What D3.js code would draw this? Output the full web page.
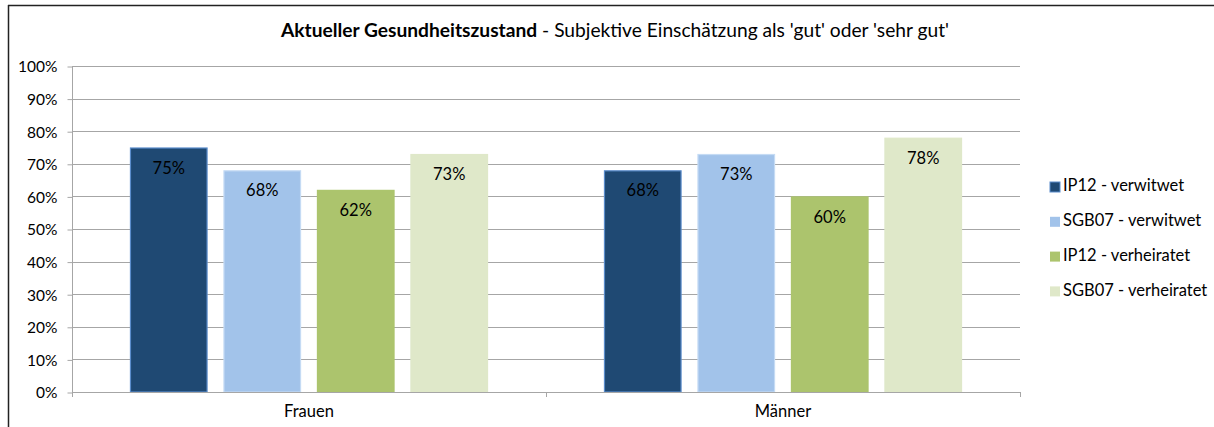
<!DOCTYPE html>
<html><head><meta charset="utf-8">
<script src="https://cdn.jsdelivr.net/npm/d3@7"></script>
<style>
body{margin:0;background:#fff;}
svg{display:block;font-family:Lato,"Open Sans",sans-serif;}
</style></head>
<body><svg id="c" width="1214" height="427"></svg>
<script>
const categories = ["Frauen", "Männer"];
const seriesNames = ["IP12 - verwitwet", "SGB07 - verwitwet", "IP12 - verheiratet", "SGB07 - verheiratet"];
const ip12Verwitwet = [0.75, 0.68];
const sgb07Verwitwet = [0.68, 0.73];
const ip12Verheiratet = [0.62, 0.60];
const sgb07Verheiratet = [0.73, 0.78];
const yTicks = [0, 0.1, 0.2, 0.3, 0.4, 0.5, 0.6, 0.7, 0.8, 0.9, 1.0];

const seriesValues = [ip12Verwitwet, sgb07Verwitwet, ip12Verheiratet, sgb07Verheiratet];
const fills = ["#1f4973", "#a2c3ea", "#acc46d", "#dfe8c9"];
const strokes = ["#5a8ccb", "#c5dbf4", "#acc46d", "#dfe8c9"];
const FONT = "Lato,'Open Sans',sans-serif";
const FS = 16.5;

const svg = d3.select("#c");
// outer frame
svg.append("line").attr("x1", 8).attr("x2", 1214).attr("y1", 5.5).attr("y2", 5.5).attr("stroke", "#222").attr("stroke-width", 1.5);
svg.append("line").attr("x1", 8.5).attr("x2", 8.5).attr("y1", 5).attr("y2", 427).attr("stroke", "#222").attr("stroke-width", 1.5);

const L = 72, R = 1020, T = 66, B = 392;
const y = d3.scaleLinear().domain([0, 1]).range([B, T]);
const x0 = d3.scaleBand().domain(categories).range([L, R]);
const x1 = d3.scaleBand().domain(d3.range(seriesNames.length)).range([0, x0.bandwidth()]).paddingInner(0.17).paddingOuter(0.62);

// gridlines
svg.append("g").selectAll("line").data(yTicks.slice(1)).join("line")
  .attr("x1", L).attr("x2", R).attr("y1", d => Math.round(y(d)) + 0.5).attr("y2", d => Math.round(y(d)) + 0.5)
  .attr("stroke", "#a6a6a6").attr("stroke-width", 1);

// y axis
const yAxis = d3.axisLeft(y).tickValues(yTicks).tickFormat(d3.format(".0%")).tickSize(5).tickPadding(10);
const gy = svg.append("g").attr("transform", `translate(${L + 0.5},0.5)`).call(yAxis);
gy.select(".domain").attr("stroke", "#a6a6a6").attr("d", `M0,${T}V${B}`);
gy.selectAll(".tick line").attr("stroke", "#a6a6a6");
gy.selectAll("text").attr("font-size", 15.5).attr("fill", "#000").attr("dy", "0.35em").attr("font-family", FONT);

// bars
const groups = svg.append("g").selectAll("g").data(categories).join("g")
  .attr("transform", d => `translate(${x0(d)},0)`);
groups.each(function(cat, ci) {
  const g = d3.select(this);
  seriesValues.forEach((vals, si) => {
    const v = vals[ci];
    g.append("rect")
      .attr("x", x1(si) + 0.5).attr("y", y(v) + 0.5)
      .attr("width", x1.bandwidth() - 1).attr("height", B - y(v) - 0.5)
      .attr("fill", fills[si]).attr("stroke", strokes[si]).attr("stroke-width", 1.2);
    g.append("text")
      .attr("x", x1(si) + x1.bandwidth() / 2).attr("y", y(v) + 22)
      .attr("text-anchor", "middle").attr("dominant-baseline", "middle")
      .attr("font-size", FS).attr("fill", "#000")
      .text(d3.format(".0%")(v));
  });
});

// x axis
const xAxis = d3.axisBottom(x0).tickSize(0).tickPadding(15);
const gx = svg.append("g").attr("transform", `translate(0,${B + 0.5})`).call(xAxis);
gx.select(".domain").attr("stroke", "#a6a6a6").attr("d", `M${L},0H${R}`);
gx.selectAll("text").attr("font-size", FS).attr("fill", "#000").attr("font-family", FONT).attr("dy", "0.55em");
svg.append("g").selectAll("line").data([L, x0(categories[1]), R]).join("line")
  .attr("x1", d => Math.round(d) + 0.5).attr("x2", d => Math.round(d) + 0.5)
  .attr("y1", B).attr("y2", B + 5).attr("stroke", "#a6a6a6");

// title
const title = svg.append("text").attr("x", 615).attr("y", 32).attr("text-anchor", "middle")
  .attr("dominant-baseline", "middle").attr("font-size", 19.2).attr("fill", "#000");
title.append("tspan").attr("font-weight", "bold").text("Aktueller Gesundheitszustand");
title.append("tspan").text(" - Subjektive Einschätzung als 'gut' oder 'sehr gut'");

// legend
const leg = svg.append("g").selectAll("g").data(seriesNames).join("g")
  .attr("transform", (d, i) => `translate(1050,${187 + i * 34.8})`);
leg.append("rect").attr("x", 0).attr("y", -5).attr("width", 10).attr("height", 10)
  .attr("fill", (d, i) => fills[i]).attr("stroke", (d, i) => i === 0 ? strokes[0] : "none");
leg.append("text").attr("x", 13).attr("y", 0).attr("dominant-baseline", "middle")
  .attr("font-size", FS).attr("fill", "#000").text(d => d);
</script></body></html>
